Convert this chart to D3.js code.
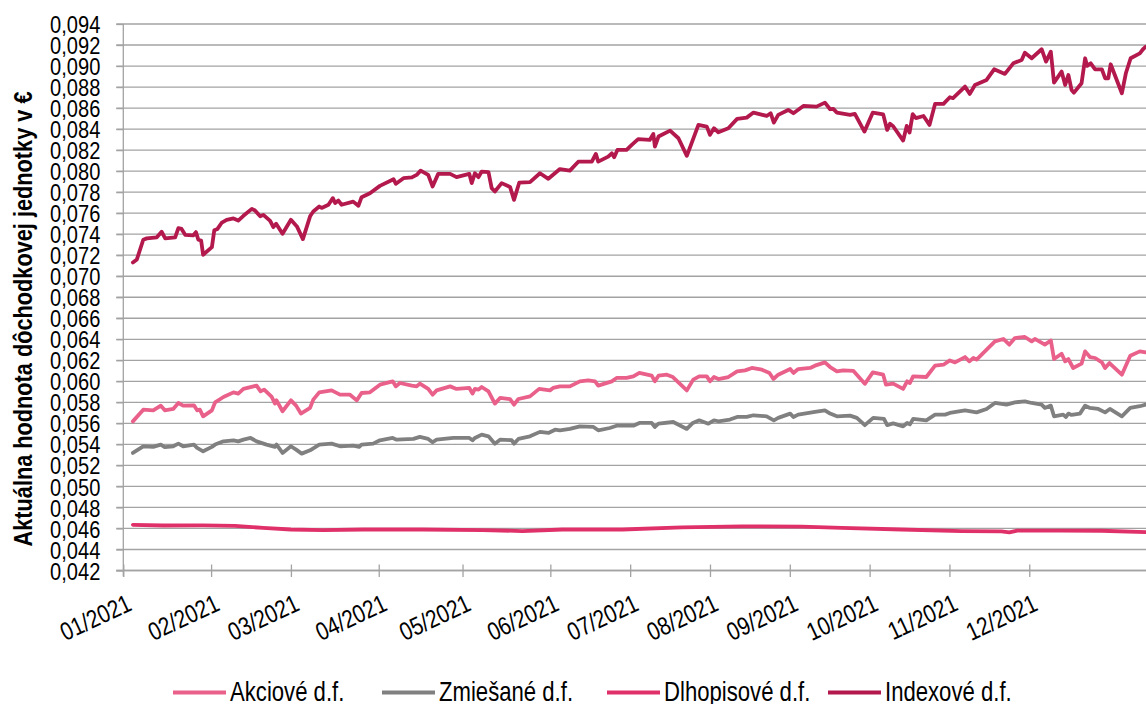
<!DOCTYPE html>
<html><head><meta charset="utf-8">
<script src="https://cdn.jsdelivr.net/npm/d3@7"></script>
<style>
body{margin:0;background:#fff;}
text{font-family:"Liberation Sans",Arial,sans-serif;fill:#000;}
</style>
</head><body>
<svg id="c" width="1146" height="704"></svg>
<script>
// ---------- DATA ----------
// x = trading-day index of 2021 (category axis), y = value of pension unit in EUR
const monthLabels = ["01/2021","02/2021","03/2021","04/2021","05/2021","06/2021","07/2021","08/2021","09/2021","10/2021","11/2021","12/2021"];
const monthTickDays = [0,22,42,64,85,107,127,147,167,187,207,227];
const yTicks = [0.042,0.044,0.046,0.048,0.050,0.052,0.054,0.056,0.058,0.060,0.062,0.064,0.066,0.068,0.070,0.072,0.074,0.076,0.078,0.080,0.082,0.084,0.086,0.088,0.090,0.092,0.094];
const seriesNames = ["Akciové d.f.","Zmiešané d.f.","Dlhopisové d.f.","Indexové d.f."];

const akcioveSeries = [[2.4,0.05619],[5.0,0.05730],[7.5,0.05724],[9.4,0.05769],[10.4,0.05724],[12.5,0.05737],[13.8,0.05794],[15.0,0.05769],[17.7,0.05772],[18.5,0.05724],[19.2,0.05730],[20.0,0.05667],[22.2,0.05724],[23.0,0.05800],[25.1,0.05851],[27.6,0.05895],[28.8,0.05883],[30.1,0.05928],[33.4,0.05959],[34.4,0.05905],[35.3,0.05921],[37.2,0.05851],[38.0,0.05788],[38.4,0.05819],[39.9,0.05715],[42.0,0.05819],[43.3,0.05769],[44.5,0.05693],[46.8,0.05747],[47.6,0.05826],[49.1,0.05895],[52.2,0.05914],[54.3,0.05873],[56.8,0.05873],[58.5,0.05819],[59.7,0.05889],[61.8,0.05895],[64.3,0.05968],[67.5,0.06000],[68.3,0.05952],[69.3,0.05984],[72.3,0.05959],[73.5,0.05952],[74.3,0.05978],[76.4,0.05928],[77.5,0.05873],[78.5,0.05914],[81.9,0.05952],[83.5,0.05928],[86.7,0.05937],[87.5,0.05883],[88.1,0.05928],[89.0,0.05921],[89.8,0.05946],[91.5,0.05905],[93.1,0.05788],[94.4,0.05842],[96.9,0.05830],[97.9,0.05778],[99.0,0.05832],[101.9,0.05857],[104.2,0.05928],[106.9,0.05914],[107.7,0.05937],[109.4,0.05952],[111.9,0.05952],[114.4,0.06000],[116.5,0.06009],[118.2,0.06000],[119.0,0.05959],[122.4,0.06000],[123.6,0.06032],[126.1,0.06032],[127.8,0.06047],[129.3,0.06080],[132.4,0.06054],[133.2,0.06000],[134.1,0.06054],[136.2,0.06063],[137.7,0.06041],[141.2,0.05914],[142.8,0.06016],[144.3,0.06047],[146.2,0.06047],[147.0,0.06000],[148.0,0.06041],[149.1,0.06022],[151.6,0.06041],[153.8,0.06095],[155.8,0.06104],[157.5,0.06127],[160.0,0.06111],[161.9,0.06080],[162.9,0.06022],[164.1,0.06063],[167.1,0.06117],[167.9,0.06080],[169.1,0.06117],[172.1,0.06127],[173.3,0.06149],[175.8,0.06180],[177.1,0.06136],[178.8,0.06095],[180.4,0.06104],[182.9,0.06100],[185.8,0.05976],[187.8,0.06085],[190.4,0.06063],[191.1,0.05968],[192.9,0.05978],[195.4,0.05928],[196.4,0.06000],[197.1,0.05984],[197.9,0.06047],[201.2,0.06041],[203.4,0.06149],[205.5,0.06158],[207.1,0.06199],[208.4,0.06180],[210.9,0.06231],[212.0,0.06190],[213.0,0.06222],[213.8,0.06206],[218.4,0.06380],[220.5,0.06403],[222.0,0.06349],[223.4,0.06412],[225.9,0.06422],[227.6,0.06380],[228.4,0.06403],[230.9,0.06349],[232.4,0.06389],[233.2,0.06212],[235.1,0.06263],[236.0,0.06190],[236.8,0.06212],[238.0,0.06127],[240.1,0.06168],[241.0,0.06285],[242.2,0.06231],[243.5,0.06222],[245.2,0.06180],[246.0,0.06127],[247.1,0.06174],[250.2,0.06063],[252.3,0.06244],[254.7,0.06285],[256.2,0.06275]];

const zmiesaneSeries = [[2.4,0.05319],[5.0,0.05382],[7.5,0.05376],[9.4,0.05398],[10.4,0.05373],[12.5,0.05382],[13.8,0.05407],[15.0,0.05382],[17.7,0.05398],[18.5,0.05366],[20.0,0.05334],[22.2,0.05376],[23.0,0.05398],[25.1,0.05429],[27.6,0.05439],[28.8,0.05429],[30.1,0.05445],[31.9,0.05461],[33.4,0.05429],[35.9,0.05398],[38.0,0.05376],[38.4,0.05398],[39.9,0.05319],[42.0,0.05382],[43.3,0.05350],[44.7,0.05312],[46.8,0.05344],[49.1,0.05398],[52.2,0.05407],[54.3,0.05382],[57.6,0.05388],[59.1,0.05376],[59.7,0.05398],[62.6,0.05407],[64.3,0.05439],[67.5,0.05461],[68.5,0.05445],[72.7,0.05452],[74.3,0.05471],[76.4,0.05452],[77.5,0.05420],[78.5,0.05445],[82.7,0.05461],[86.7,0.05461],[87.5,0.05439],[88.1,0.05461],[89.8,0.05493],[91.5,0.05477],[93.1,0.05407],[94.4,0.05445],[97.3,0.05440],[97.9,0.05407],[99.0,0.05452],[101.9,0.05477],[104.4,0.05519],[106.5,0.05509],[108.2,0.05540],[109.4,0.05534],[111.9,0.05547],[114.4,0.05572],[117.8,0.05566],[119.0,0.05534],[121.9,0.05556],[123.6,0.05578],[127.8,0.05578],[129.3,0.05604],[132.4,0.05604],[133.2,0.05566],[134.1,0.05597],[137.8,0.05613],[141.2,0.05547],[142.7,0.05604],[144.3,0.05629],[146.6,0.05597],[148.0,0.05629],[149.1,0.05620],[152.0,0.05636],[153.8,0.05661],[156.2,0.05661],[157.9,0.05677],[161.2,0.05667],[163.0,0.05629],[164.1,0.05652],[167.1,0.05693],[167.9,0.05661],[169.1,0.05683],[173.3,0.05709],[175.8,0.05724],[177.1,0.05693],[178.8,0.05667],[182.1,0.05674],[183.8,0.05652],[185.8,0.05583],[187.9,0.05652],[190.6,0.05643],[191.4,0.05583],[192.9,0.05600],[195.4,0.05572],[196.4,0.05604],[197.1,0.05590],[197.9,0.05642],[201.2,0.05629],[203.4,0.05683],[205.9,0.05683],[207.1,0.05699],[210.9,0.05724],[213.8,0.05705],[216.3,0.05737],[218.4,0.05794],[221.3,0.05778],[223.4,0.05800],[225.9,0.05810],[227.6,0.05794],[230.1,0.05778],[230.9,0.05747],[232.4,0.05769],[233.2,0.05667],[235.5,0.05683],[236.2,0.05661],[236.8,0.05693],[237.6,0.05680],[239.7,0.05693],[241.0,0.05769],[242.2,0.05747],[244.3,0.05737],[246.0,0.05705],[247.2,0.05737],[250.2,0.05667],[252.3,0.05747],[254.7,0.05763],[256.2,0.05778]];

const dlhopisoveSeries = [[2.4,0.04635],[10,0.04628],[20,0.04630],[28,0.04625],[35,0.04605],[42,0.04590],[50,0.04585],[60,0.04590],[75,0.04590],[90,0.04585],[100,0.04575],[110,0.04590],[125,0.04590],[140,0.04610],[155,0.04620],[170,0.04618],[180,0.04605],[195,0.04590],[210,0.04575],[220,0.04572],[222,0.04562],[224,0.04580],[235,0.04580],[245,0.04578],[256.2,0.04566]];

const indexoveSeries = [[2.4,0.07131],[3.4,0.0716],[5.0,0.07347],[5.9,0.0736],[8.4,0.0737],[9.6,0.07423],[10.5,0.0736],[13.0,0.0737],[13.8,0.07458],[14.6,0.0745],[15.5,0.07394],[17.5,0.07388],[18.2,0.0742],[18.8,0.07347],[19.5,0.0734],[20.0,0.07204],[22.2,0.07277],[22.8,0.07437],[23.6,0.0745],[24.7,0.07511],[25.9,0.07537],[27.6,0.0755],[28.8,0.0753],[30.1,0.07575],[32.2,0.07641],[33.0,0.07625],[34.3,0.0757],[35.1,0.07584],[36.8,0.07527],[37.6,0.07467],[38.3,0.0750],[39.9,0.07404],[42.0,0.07537],[43.5,0.07474],[45.0,0.07353],[46.8,0.0757],[47.6,0.07616],[49.1,0.07663],[49.7,0.0765],[51.4,0.0768],[52.5,0.07743],[53.1,0.07696],[53.9,0.0772],[54.7,0.0768],[57.6,0.0771],[58.9,0.0767],[59.7,0.07752],[61.8,0.0779],[64.3,0.0786],[67.7,0.07923],[68.3,0.0788],[70.2,0.07933],[72.3,0.0794],[73.5,0.07964],[74.5,0.08005],[76.4,0.07964],[77.5,0.07853],[78.9,0.07974],[81.9,0.07974],[83.5,0.07943],[86.7,0.07974],[87.3,0.07886],[88.1,0.0798],[89.0,0.07943],[89.8,0.07996],[91.5,0.0799],[92.3,0.07838],[93.1,0.07806],[94.8,0.07886],[96.9,0.07850],[97.9,0.07727],[99.2,0.07890],[101.9,0.07895],[104.4,0.0798],[106.5,0.07927],[109.4,0.0802],[111.9,0.08005],[114.0,0.0809],[117.4,0.0809],[118.4,0.08164],[119.0,0.0809],[121.5,0.08138],[122.4,0.0817],[123.0,0.08133],[123.8,0.08202],[126.1,0.08202],[127.4,0.0825],[129.0,0.08304],[131.9,0.08297],[132.8,0.08354],[133.2,0.08234],[134.1,0.08329],[137.0,0.08386],[139.1,0.08313],[141.2,0.08145],[142.4,0.08266],[144.1,0.0844],[146.2,0.08424],[147.0,0.08345],[148.0,0.08408],[149.1,0.0837],[151.6,0.08408],[153.8,0.08497],[156.2,0.08509],[157.9,0.08557],[161.2,0.08525],[162.2,0.08551],[163.0,0.08462],[164.1,0.08535],[166.6,0.08582],[167.9,0.08551],[170.4,0.0862],[173.7,0.08614],[175.8,0.08652],[177.1,0.08589],[177.9,0.08592],[178.8,0.08557],[182.1,0.08535],[183.3,0.08545],[185.7,0.08376],[187.8,0.08557],[190.4,0.08540],[191.4,0.08392],[192.1,0.0845],[192.9,0.08427],[195.4,0.08291],[196.3,0.0843],[197.0,0.08367],[197.8,0.08542],[198.6,0.08504],[200.5,0.08525],[202.0,0.0844],[203.4,0.0864],[205.5,0.0864],[207.1,0.08703],[207.9,0.08694],[210.9,0.08804],[212.1,0.08735],[213.4,0.0882],[216.3,0.08868],[218.2,0.08969],[220.9,0.08925],[223.0,0.09026],[225.1,0.09058],[225.9,0.09127],[227.6,0.09074],[230.1,0.0916],[231.2,0.09042],[232.4,0.09137],[233.2,0.08842],[235.1,0.08947],[236.0,0.0882],[236.8,0.08915],[237.6,0.08773],[238.2,0.08747],[240.1,0.08836],[241.0,0.09074],[241.5,0.09001],[242.4,0.09026],[243.5,0.08969],[245.2,0.08969],[246.0,0.08884],[246.8,0.08884],[247.4,0.09017],[250.2,0.08741],[251.2,0.08931],[252.4,0.09074],[254.7,0.09121],[255.5,0.0916],[256.2,0.09184]];

const seriesColors = ["#E9608B","#808080","#E0306A","#B3194C"];
const yTitle = "Aktuálna hodnota dôchodkovej jednotky v €";

// ---------- CHART ----------
const W = 1146, H = 704;
const NARROW = 0.82;
const plot = {left:123.3, right:1146, top:24, bottom:570.5};
const svg = d3.select("#c");
const x = d3.scaleLinear().domain([0,256.25]).range([plot.left, plot.right]);
const y = d3.scaleLinear().domain([0.042,0.094]).range([plot.bottom, plot.top]);
const fmt = d => d3.format(".3f")(d).replace(".", ",");
const gridColor = "#a3a3a3";

// gridlines
svg.append("g").selectAll("line").data(yTicks).join("line")
  .attr("x1", plot.left - 7).attr("x2", W)
  .attr("y1", d => y(d)).attr("y2", d => y(d))
  .attr("stroke", gridColor).attr("stroke-width", 1.3);

// y axis
const yAxis = svg.append("g").attr("transform", `translate(${plot.left},0)`)
  .call(d3.axisLeft(y).tickValues(yTicks).tickSize(7).tickFormat(fmt));
yAxis.select(".domain").remove();
yAxis.selectAll(".tick line").attr("stroke", gridColor).attr("stroke-width", 1.3);
yAxis.selectAll(".tick text")
  .attr("font-size", 24.5).attr("font-family", "Liberation Sans, Arial, sans-serif")
  .attr("x", -23 / NARROW).attr("dy", "0.35em")
  .attr("transform", `scale(${NARROW},1)`);
svg.append("line").attr("x1", plot.left).attr("x2", plot.left)
  .attr("y1", plot.top).attr("y2", plot.bottom + 6)
  .attr("stroke", gridColor).attr("stroke-width", 1.3);

// x axis
const xAxis = svg.append("g").attr("transform", `translate(0,${plot.bottom})`)
  .call(d3.axisBottom(x).tickValues(monthTickDays).tickSize(7).tickFormat(""));
xAxis.select(".domain").remove();
xAxis.selectAll(".tick line").attr("y1", -6).attr("y2", 6.5).attr("stroke", gridColor).attr("stroke-width", 1.3);
svg.append("line").attr("x1", plot.left - 7).attr("x2", W)
  .attr("y1", plot.bottom).attr("y2", plot.bottom)
  .attr("stroke", gridColor).attr("stroke-width", 1.3);
svg.append("g").selectAll("text").data(monthTickDays).join("text")
  .attr("transform", (d) => `translate(${x(d) + 10},${plot.bottom + 39}) rotate(-25) scale(${NARROW},1)`)
  .attr("text-anchor", "end").attr("font-size", 25.3)
  .text((d, i) => monthLabels[i]);

// y title
svg.append("text")
  .attr("transform", `translate(32,319) rotate(-90) scale(${NARROW},1)`)
  .attr("text-anchor", "middle").attr("font-size", 26.5).attr("font-weight", "bold")
  .text(yTitle);

// lines
const allSeries = [akcioveSeries, zmiesaneSeries, dlhopisoveSeries, indexoveSeries];
const line = d3.line().x(d => x(d[0])).y(d => y(d[1]));
svg.append("g").selectAll("path").data(allSeries).join("path")
  .attr("d", line).attr("fill", "none")
  .attr("stroke", (d, i) => seriesColors[i])
  .attr("stroke-width", 3.8).attr("stroke-linejoin", "round").attr("stroke-linecap", "round");

// legend
const legendStarts = [173, 382, 607, 828];
const lg = svg.append("g").selectAll("g").data(seriesNames).join("g")
  .attr("transform", (d, i) => `translate(${legendStarts[i]},692.5)`);
lg.append("line").attr("x1", 0).attr("x2", 53).attr("y1", 0).attr("y2", 0)
  .attr("stroke", (d, i) => seriesColors[i]).attr("stroke-width", 4);
lg.append("text").attr("transform", `translate(57,8.5) scale(${NARROW},1)`)
  .attr("font-size", 27).text(d => d);
</script>
</body></html>
